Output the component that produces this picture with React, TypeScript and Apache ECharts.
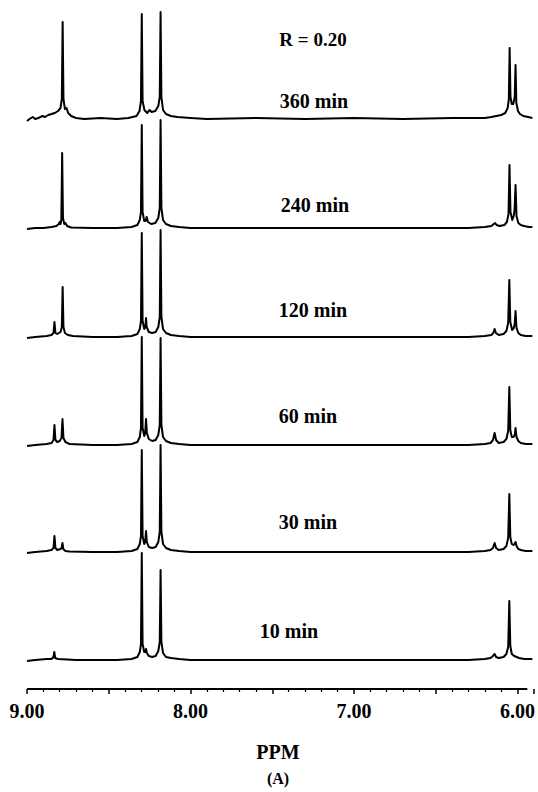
import { useEffect, useRef } from 'react';
import * as echarts from 'echarts';

// ---- Data (ppm, height above the trace's own baseline) ----
const traceLabels = ['360 min', '240 min', '120 min', '60 min', '30 min', '10 min'];
const baselineOffsets = [570, 461, 352, 244, 137, 29];
const labelPositions: [number, number][] = [[314, 101], [315, 205], [313, 310], [308, 416], [308, 522], [289, 631]];

const trace360: [number, number][] = [
  [9.0, -2], [8.985, 0], [8.965, 2], [8.95, 0], [8.93, 1], [8.905, 3], [8.89, 2], [8.87, 4], [8.85, 5], [8.83, 6],
  [8.81, 8], [8.795, 11], [8.787, 20], [8.782, 97], [8.777, 20], [8.768, 10], [8.758, 11], [8.748, 6], [8.73, 3],
  [8.7, 1], [8.65, 0], [8.55, 1], [8.45, 0], [8.38, 1], [8.33, 3], [8.312, 8], [8.303, 18], [8.298, 105], [8.293, 18],
  [8.282, 9], [8.265, 6], [8.25, 9], [8.238, 7], [8.215, 8], [8.197, 13], [8.188, 22], [8.183, 107], [8.178, 22],
  [8.168, 9], [8.15, 5], [8.12, 3], [8.08, 2], [8.0, 1], [7.9, 0], [7.6, 1], [7.3, 0], [7.0, 1], [6.7, 0], [6.4, 1],
  [6.2, 1], [6.16, 2], [6.13, 3], [6.1, 4], [6.075, 6], [6.06, 11], [6.053, 20], [6.048, 71], [6.043, 22], [6.035, 15],
  [6.026, 15], [6.017, 22], [6.012, 54], [6.007, 16], [5.997, 8], [5.985, 5], [5.965, 3], [5.935, 2], [5.909, 1],
];
const trace240: [number, number][] = [
  [9.0, -1], [8.95, 0], [8.9, 0], [8.85, 1], [8.82, 2], [8.806, 4], [8.8, 6], [8.795, 4], [8.79, 8], [8.785, 75],
  [8.78, 10], [8.772, 4], [8.765, 5], [8.755, 2], [8.73, 0.5], [8.6, 0], [8.45, 0], [8.36, 1], [8.325, 3], [8.31, 8],
  [8.303, 16], [8.298, 103], [8.293, 16], [8.283, 7], [8.275, 7], [8.268, 11], [8.26, 6], [8.24, 4], [8.215, 5],
  [8.197, 10], [8.188, 20], [8.183, 108], [8.178, 20], [8.168, 8], [8.15, 4], [8.12, 2], [8.07, 1], [8.0, 0],
  [7.5, 0], [7.0, 0], [6.5, 0], [6.3, 0], [6.2, 1], [6.16, 2], [6.145, 4], [6.137, 5], [6.128, 3], [6.11, 2],
  [6.08, 3], [6.065, 6], [6.055, 14], [6.049, 63], [6.043, 16], [6.032, 8], [6.023, 12], [6.018, 18], [6.012, 43],
  [6.006, 12], [5.995, 5], [5.98, 3], [5.96, 2], [5.93, 1], [5.909, 1],
];
const trace120: [number, number][] = [
  [9.0, -1], [8.95, 0], [8.88, 1], [8.85, 2], [8.838, 4], [8.832, 15], [8.826, 4], [8.815, 3], [8.795, 5], [8.787, 10],
  [8.782, 50], [8.777, 10], [8.768, 4], [8.75, 2], [8.72, 1], [8.6, 0], [8.45, 0], [8.36, 1], [8.325, 3], [8.31, 8],
  [8.303, 16], [8.298, 104], [8.293, 16], [8.283, 8], [8.276, 10], [8.272, 19], [8.268, 10], [8.255, 5], [8.235, 4],
  [8.213, 5], [8.197, 10], [8.188, 20], [8.183, 107], [8.178, 20], [8.168, 8], [8.15, 4], [8.12, 2], [8.07, 1],
  [8.0, 0], [7.5, 0], [7.0, 0], [6.5, 0], [6.3, 0], [6.2, 1], [6.16, 2], [6.148, 4], [6.14, 8], [6.132, 4], [6.115, 2],
  [6.085, 3], [6.068, 6], [6.057, 14], [6.05, 57], [6.044, 15], [6.033, 7], [6.023, 9], [6.017, 13], [6.012, 26],
  [6.006, 9], [5.995, 4], [5.98, 2], [5.95, 1], [5.909, 1],
];
const trace60: [number, number][] = [
  [9.0, -1], [8.95, 0], [8.88, 1], [8.85, 2], [8.838, 5], [8.832, 20], [8.826, 5], [8.815, 3], [8.8, 4], [8.789, 7],
  [8.783, 26], [8.777, 7], [8.765, 3], [8.74, 1], [8.6, 0], [8.45, 0], [8.36, 1], [8.325, 3], [8.31, 8], [8.303, 17],
  [8.298, 108], [8.293, 17], [8.283, 9], [8.277, 12], [8.272, 26], [8.267, 12], [8.255, 6], [8.235, 4], [8.213, 5],
  [8.197, 10], [8.188, 20], [8.183, 107], [8.178, 20], [8.168, 8], [8.15, 4], [8.12, 2], [8.07, 1], [8.0, 0],
  [7.5, 0], [7.0, 0], [6.5, 0], [6.3, 0], [6.2, 1], [6.165, 2], [6.15, 5], [6.14, 12], [6.131, 5], [6.115, 2],
  [6.085, 3], [6.068, 6], [6.057, 14], [6.05, 58], [6.044, 15], [6.035, 8], [6.025, 8], [6.017, 10], [6.012, 17],
  [6.006, 8], [5.995, 4], [5.98, 2], [5.95, 1], [5.909, 1],
];
const trace30: [number, number][] = [
  [9.0, -1], [8.95, 0], [8.88, 1], [8.85, 2], [8.838, 4], [8.832, 16], [8.826, 4], [8.815, 2], [8.795, 3], [8.788, 4],
  [8.783, 9], [8.778, 3], [8.765, 1], [8.74, 0.5], [8.6, 0], [8.45, 0], [8.36, 1], [8.325, 3], [8.31, 8], [8.303, 16],
  [8.298, 102], [8.293, 16], [8.283, 8], [8.277, 10], [8.272, 21], [8.267, 10], [8.255, 5], [8.235, 4], [8.213, 5],
  [8.197, 10], [8.188, 20], [8.183, 107], [8.178, 20], [8.168, 8], [8.15, 4], [8.12, 2], [8.07, 1], [8.0, 0],
  [7.5, 0], [7.0, 0], [6.5, 0], [6.3, 0], [6.2, 1], [6.165, 2], [6.15, 4], [6.14, 9], [6.131, 4], [6.115, 2],
  [6.085, 3], [6.068, 6], [6.057, 14], [6.05, 58], [6.044, 15], [6.035, 8], [6.025, 7], [6.017, 8], [6.012, 10],
  [6.006, 6], [5.995, 3], [5.98, 2], [5.95, 1], [5.909, 1],
];
const trace10: [number, number][] = [
  [9.0, -1], [8.95, 0], [8.88, 1], [8.85, 1], [8.838, 3], [8.833, 8], [8.828, 2], [8.81, 1], [8.7, 0], [8.45, 0],
  [8.36, 1], [8.325, 3], [8.31, 8], [8.303, 16], [8.298, 107], [8.293, 16], [8.283, 8], [8.276, 8], [8.272, 11],
  [8.267, 7], [8.255, 4], [8.235, 3], [8.213, 4], [8.197, 9], [8.188, 18], [8.183, 90], [8.178, 18], [8.168, 7],
  [8.15, 3], [8.12, 2], [8.07, 1], [8.0, 0], [7.5, 0], [7.0, 0], [6.5, 0], [6.3, 0], [6.2, 1], [6.165, 2], [6.15, 4],
  [6.14, 6], [6.131, 3], [6.115, 2], [6.085, 3], [6.068, 6], [6.057, 13], [6.05, 59], [6.044, 14], [6.035, 6],
  [6.02, 4], [6.005, 3], [5.99, 2], [5.96, 1], [5.909, 1],
];
const traces = [trace360, trace240, trace120, trace60, trace30, trace10];

const ratioLabel = 'R = 0.20';
const axisTitle = 'PPM';
const panelLabel = '(A)';
const PPM_START = 9.0; // left end of the axis
const PPM_END = 5.9; // right end of the plotting range
const AXIS_LINE_END = 5.94;

const FONT = '"Liberation Serif", "Times New Roman", serif';

export default function App() {
  const ref = useRef<HTMLDivElement>(null);
  useEffect(() => {
    if (!ref.current) return;
    const chart = echarts.init(ref.current, undefined, { renderer: 'svg' });
    const toX = (ppm: number) => +(PPM_START - ppm).toFixed(4);

    const series: any[] = traces.map((tr, i) => ({
      type: 'line',
      name: traceLabels[i],
      data: tr.map(([p, h]) => [toX(p), h + baselineOffsets[i]]),
      symbol: 'none',
      showSymbol: false,
      clip: false,
      silent: true,
      lineStyle: { color: '#000', width: 2, join: 'round' },
    }));
    series.push({
      type: 'line',
      name: 'axis',
      data: [[toX(PPM_START), 0], [toX(AXIS_LINE_END), 0]],
      symbol: 'none',
      clip: false,
      silent: true,
      lineStyle: { color: '#000', width: 2.2 },
    });

    const text = (t: string, x: number, y: number, size: number) => ({
      type: 'text',
      x,
      y,
      silent: true,
      style: {
        text: t,
        fill: '#000',
        font: `bold ${size}px ${FONT}`,
        align: 'center',
        verticalAlign: 'middle',
      },
    });

    const graphics: any[] = [
      text(ratioLabel, 313, 39, 19),
      ...traceLabels.map((l, i) => text(l, labelPositions[i][0], labelPositions[i][1], 20)),
      text(axisTitle, 278, 752, 20),
      text(panelLabel, 278, 778, 16),
    ];

    chart.setOption({
      animation: false,
      backgroundColor: '#fff',
      grid: { left: 27, top: 0, width: 511.5, height: 689 },
      xAxis: {
        type: 'value',
        min: 0,
        max: PPM_START - PPM_END,
        interval: 0.5,
        axisLine: { show: false },
        axisTick: { show: true, length: 5, lineStyle: { color: '#000', width: 1.5 } },
        minorTick: { show: true, splitNumber: 5, length: 3, lineStyle: { color: '#000', width: 1.2 } },
        splitLine: { show: false },
        minorSplitLine: { show: false },
        axisLabel: {
          color: '#000',
          fontFamily: FONT,
          fontWeight: 'bold',
          fontSize: 20,
          margin: 12,
          formatter: (v: number) =>
            Math.abs(v - Math.round(v)) < 1e-6 ? (PPM_START - v).toFixed(2) : '',
        },
      },
      yAxis: { type: 'value', min: 0, max: 689, show: false },
      series,
      graphic: graphics,
    });
    return () => chart.dispose();
  }, []);
  return (
    <div
      ref={ref}
      style={{ position: 'absolute', left: 0, top: 0, width: 538, height: 792, background: '#fff' }}
    />
  );
}
